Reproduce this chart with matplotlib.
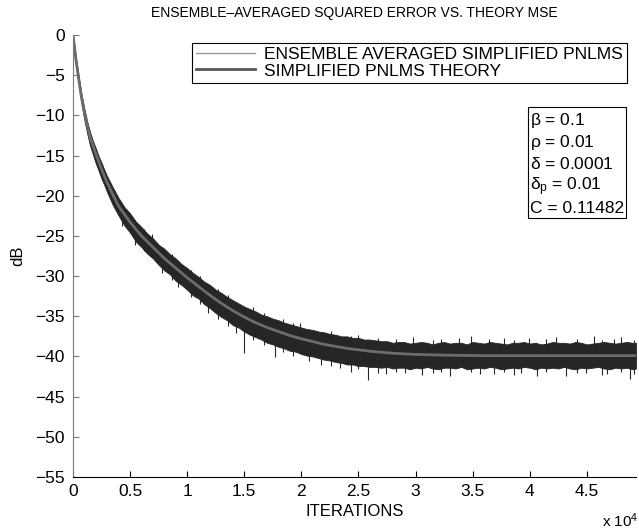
#!/usr/bin/env python3
# -*- coding: utf-8 -*-

#------------------------------------------------------------------------------
# ensemble averaged squared error vs theory MSE (simplified PNLMS)
#------------------------------------------------------------------------------
import numpy as np
import matplotlib
matplotlib.use('Agg')
import matplotlib.pyplot as plt; plt.close('all')
from matplotlib.lines import Line2D

#------------------------------------------------------------------------------
# SETTINGS:
#------------------------------------------------------------------------------

fontsize = 12.5
plt.rcParams['font.family'] = ['Liberation Sans', 'DejaVu Sans']
plt.rcParams['mathtext.fontset'] = 'custom'
plt.rcParams['mathtext.rm'] = 'Liberation Sans'
plt.rcParams['mathtext.it'] = 'Liberation Sans'
plt.rcParams['mathtext.bf'] = 'Liberation Sans:bold'

#------------------------------------------------------------------------------
# DATA:
#------------------------------------------------------------------------------

# theory MSE curve, dB
theory_it = [0, 250, 500, 750, 1000, 1500, 2000, 2500, 3000, 3500, 4000, 5000,
             6000, 7000, 8000, 9000, 10000, 11000, 12000, 13000, 14000, 15000,
             16000, 17000, 18000, 19000, 20000, 22000, 24000, 26000, 28000,
             30000, 33000, 36000, 40000, 45000, 49300]
theory_db = [0, -3.0, -5.5, -7.8, -9.7, -12.7, -14.8, -16.7, -18.4, -19.9, -21.3,
             -23.3, -25.0, -26.4, -27.8, -29.0, -30.2, -31.3, -32.4, -33.4, -34.3,
             -35.1, -35.8, -36.4, -36.9, -37.4, -37.8, -38.5, -39.0, -39.35, -39.6,
             -39.75, -39.85, -39.9, -39.9, -39.9, -39.9]

# envelope of the ensemble averaged (noisy) squared error, dB
band_it = [0, 250, 500, 750, 1000, 1250, 1500, 1750, 2000, 2250, 2500, 2750, 3000,
           3500, 4000, 4500, 5000, 5500, 6000, 6500, 7000, 7500, 8000, 8500, 9000,
           9500, 10000, 10500, 11000, 11500, 12000, 12500, 13000, 13500, 14000,
           14500, 15000, 15500, 16000, 16500, 17000, 17500, 18000, 18500, 19000,
           19500, 20000, 20500, 21000, 21500, 22000, 22500, 23000, 23500, 24000,
           24500, 25000, 25500, 26000, 26500, 27000, 27500, 28000, 28500, 29000,
           29500, 30000, 30500, 31000, 31500, 32000, 32500, 33000, 33500, 34000,
           34500, 35000, 35500, 36000, 36500, 37000, 37500, 38000, 38500, 39000,
           39500, 40000, 40500, 41000, 41500, 42000, 42500, 43000, 43500, 44000,
           44500, 45000, 45500, 46000, 46500, 47000, 47500, 48000, 48500, 49000,
           49300]
band_hi = [0.2, -2.7, -5.1, -7.4, -9.2, -10.8, -12.1, -13.2, -14.1, -15.1, -15.9,
           -16.8, -17.6, -19.0, -20.3, -21.4, -22.2, -23.2, -23.9, -24.7, -25.3,
           -26.1, -26.6, -27.3, -27.8, -28.5, -29.0, -29.6, -30.1, -30.7, -31.1,
           -31.7, -32.1, -32.6, -33.0, -33.4, -33.8, -34.1, -34.4, -34.8, -35.0,
           -35.3, -35.5, -35.8, -36.0, -36.2, -36.4, -36.6, -36.7, -36.9, -37.0,
           -37.2, -37.3, -37.5, -37.5, -37.7, -37.7, -37.9, -37.9,
           -38.0, -38.1, -38.1, -38.3, -38.2, -38.2, -38.4, -38.3, -38.2, -38.3,
           -38.5, -38.3, -38.2, -38.4, -38.3, -38.3, -38.5, -38.2, -38.3, -38.4,
           -38.2, -38.3, -38.4, -38.5, -38.3, -38.3, -38.2, -38.4, -38.3, -38.5,
           -38.4, -38.2, -38.3, -38.3, -38.4, -38.2, -38.3, -38.5, -38.4, -38.3,
           -38.2, -38.3, -38.4, -38.3, -38.2, -38.3, -38.3]
band_lo = [-0.5, -3.6, -6.2, -8.6, -10.6, -12.3, -13.8, -14.9, -16.0, -16.9, -17.9,
           -18.7, -19.6, -21.2, -22.5, -23.7, -24.6, -25.7, -26.4, -27.2, -27.8,
           -28.6, -29.3, -29.8, -30.6, -31.1, -31.7, -32.4, -32.8, -33.5, -34.0,
           -34.6, -35.1, -35.5, -36.1, -36.4, -36.9, -37.3, -37.6, -37.9, -38.3,
           -38.5, -38.8, -39.0, -39.3, -39.4, -39.7, -39.9, -40.0, -40.2, -40.4,
           -40.5, -40.7, -40.8, -41.0, -41.0, -41.2, -41.2, -41.3,
           -41.3, -41.4, -41.3, -41.5, -41.4, -41.4, -41.6, -41.4, -41.5, -41.3,
           -41.5, -41.6, -41.4, -41.4, -41.5, -41.3, -41.6, -41.5, -41.4, -41.5,
           -41.3, -41.4, -41.6, -41.5, -41.4, -41.5, -41.3, -41.4, -41.6, -41.4,
           -41.5, -41.4, -41.5, -41.3, -41.5, -41.6, -41.4, -41.5, -41.4, -41.3,
           -41.5, -41.6, -41.4, -41.5, -41.4, -41.6, -41.5]

# isolated spikes of the noisy curve: iteration, low end, high end (dB)
spike_it = [4300, 5430, 6200, 6890, 7800, 8700, 9200, 10300, 11100, 11800,
            12700, 13600, 14300, 14970, 15800, 16700, 17690, 18400, 19300, 19880,
            20700, 21700, 22600, 23400, 24300, 25000, 25830, 26700, 27400, 28300,
            29100, 29770, 30600, 31520, 32200, 33010, 33800, 34850, 35600, 36400,
            36900, 37700, 38600, 39200, 39930, 40630, 41400, 42300, 43200, 44100,
            44900, 45620, 46300, 46800, 47400, 47980, 48770, 49100]
spike_lo = [-23.8, -26.1, -26.9, -27.0, -29.6, -30.5, -31.4, -32.6, -33.5, -34.6,
            -35.3, -36.2, -37.1, -39.6, -38.0, -38.6, -40.1, -39.5, -39.9, -39.0,
            -40.6, -41.1, -41.2, -41.4, -41.9, -41.6, -42.9, -42.0, -42.2, -41.9,
            -42.1, -39.5, -42.3, -42.1, -41.9, -42.4, -39.5, -41.9, -42.2, -39.5,
            -42.2, -41.9, -42.3, -42.0, -39.5, -42.4, -41.9, -39.5, -42.4, -42.0,
            -42.1, -39.5, -42.3, -42.2, -39.5, -41.9, -42.8, -42.2]
spike_hi = [-21.5, -23.5, -24.2, -24.8, -27.0, -27.2, -28.6, -29.2, -30.0, -31.5,
            -31.6, -32.4, -33.6, -34.5, -33.9, -34.6, -36.0, -35.4, -35.8, -35.8,
            -36.6, -37.0, -36.8, -37.4, -37.4, -37.3, -39.0, -37.7, -39.5, -37.8,
            -39.5, -37.6, -39.5, -37.9, -37.8, -39.5, -37.7, -37.5, -39.5, -37.8,
            -39.5, -37.7, -37.9, -39.5, -37.7, -39.5, -37.8, -37.6, -39.5, -37.8,
            -39.5, -37.5, -37.9, -39.5, -37.8, -37.6, -39.5, -37.9]

xticks = [0, 5000, 10000, 15000, 20000, 25000, 30000, 35000, 40000, 45000]
xticklabels = ['0', '0.5', '1', '1.5', '2', '2.5', '3', '3.5', '4', '4.5']
yticks = [-55, -50, -45, -40, -35, -30, -25, -20, -15, -10, -5, 0]

params = [r'$\beta$ = 0.1', r'$\rho$ = 0.01', r'$\delta$ = 0.0001',
          r'$\delta_{\rm p}$ = 0.01', 'C = 0.11482']

#------------------------------------------------------------------------------
# PLOT:
#------------------------------------------------------------------------------

band_color = '#262626'
theory_color = '#6c6c6c'

fig = plt.figure(figsize=(6.39, 5.32), dpi=100)
ax = fig.add_axes([73/639, 1-477/532, (636-73)/639, (477-35)/532])

ax.fill_between(band_it, band_lo, band_hi, color=band_color, lw=0.6, edgecolor=band_color)
ax.vlines(spike_it, spike_lo, spike_hi, color=band_color, lw=0.8)
ax.plot(theory_it, theory_db, color=theory_color, lw=2.0)

ax.set_xlim(0, 49300)
ax.set_ylim(-55, 0)
ax.set_xticks(xticks)
ax.set_xticklabels(xticklabels)
ax.set_yticks(yticks)

for side in ['top', 'right']:
    ax.spines[side].set_visible(False)
ax.spines['left'].set_color('#7a7a7a')
ax.spines['bottom'].set_color('black')
ax.tick_params(axis='both', direction='in', length=4, labelsize=fontsize)
ax.tick_params(axis='y', color='#7a7a7a', pad=6)
ax.tick_params(axis='x', pad=5)

ax.set_title('ENSEMBLE\u2013AVERAGED SQUARED ERROR VS. THEORY MSE', fontsize=10, pad=13)
ax.set_xlabel('ITERATIONS', fontsize=12, labelpad=4)
ax.set_ylabel('dB', fontsize=12, labelpad=7)
fig.text(638/639, 1-521/532, r'x 10$^4$', fontsize=11, ha='right', va='center')

# legend (styles as shown in the original legend)
handles = [Line2D([], [], color='#9a9a9a', lw=1.0),
           Line2D([], [], color='#555555', lw=2.0)]
labels = ['ENSEMBLE AVERAGED SIMPLIFIED PNLMS', 'SIMPLIFIED PNLMS THEORY']
leg = fig.legend(handles, labels, loc='upper right', bbox_to_anchor=(627/639, 1-43/532),
                 fontsize=fontsize, fancybox=False, framealpha=1, edgecolor='black',
                 borderaxespad=0, handlelength=3.4, borderpad=0.25, labelspacing=0.05,
                 handletextpad=0.5)
leg.get_frame().set_linewidth(0.8)

fig.text(530/639, 1-111/532, '\n'.join(params), fontsize=fontsize, ha='left', va='top',
         linespacing=1.25,
         bbox=dict(boxstyle='square,pad=0.12', fc='white', ec='black', lw=0.8))

plt.savefig('out.png', dpi=100)
